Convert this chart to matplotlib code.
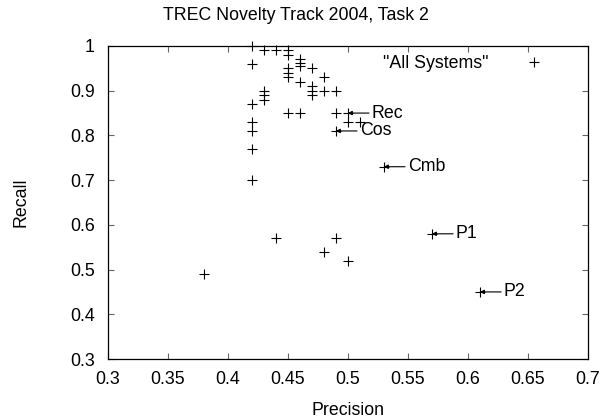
import matplotlib
matplotlib.use("Agg")
import matplotlib.pyplot as plt

# Data
precision = [0.42, 0.43, 0.44, 0.45, 0.45,
             0.42, 0.46, 0.46, 0.46,
             0.45, 0.45, 0.45, 0.47, 0.48, 0.46,
             0.47, 0.47, 0.47, 0.48, 0.49,
             0.43, 0.43, 0.43, 0.42,
             0.45, 0.46, 0.49, 0.50, 0.50, 0.51, 0.49,
             0.42, 0.42, 0.42, 0.42,
             0.53, 0.57, 0.61,
             0.44, 0.49, 0.48, 0.50, 0.38]
recall = [1.00, 0.99, 0.99, 0.99, 0.98,
          0.96, 0.97, 0.963, 0.955,
          0.95, 0.94, 0.93, 0.95, 0.93, 0.92,
          0.91, 0.90, 0.89, 0.90, 0.90,
          0.90, 0.89, 0.88, 0.87,
          0.85, 0.85, 0.85, 0.85, 0.83, 0.83, 0.81,
          0.83, 0.81, 0.77, 0.70,
          0.73, 0.58, 0.45,
          0.57, 0.57, 0.54, 0.52, 0.49]

labels = ["Rec", "Cos", "Cmb", "P1", "P2"]
label_points = [(0.50, 0.85), (0.49, 0.81), (0.53, 0.73), (0.57, 0.58), (0.61, 0.45)]
label_text_pos = [(0.52, 0.85), (0.51, 0.81), (0.55, 0.73), (0.59, 0.58), (0.63, 0.45)]

xticks = [0.3, 0.35, 0.4, 0.45, 0.5, 0.55, 0.6, 0.65, 0.7]
yticks = [0.3, 0.4, 0.5, 0.6, 0.7, 0.8, 0.9, 1.0]
xtick_labels = ["0.3", "0.35", "0.4", "0.45", "0.5", "0.55", "0.6", "0.65", "0.7"]
ytick_labels = ["0.3", "0.4", "0.5", "0.6", "0.7", "0.8", "0.9", "1"]

plt.rcParams['font.family'] = ['Liberation Sans', 'DejaVu Sans']
FS = 12.8

fig = plt.figure(figsize=(6.16, 4.2), dpi=100)
W, H = 616, 420
left, right, top, bottom = 107.5, 588, 46, 359
ax = fig.add_axes([left / W, 1 - bottom / H, (right - left) / W, (bottom - top) / H])

ax.plot(precision, recall, linestyle='none', marker='+', color='black',
        markersize=6.5, markeredgewidth=0.8, label='"All Systems"', clip_on=False)

for lab, p, t in zip(labels, label_points, label_text_pos):
    ax.annotate(lab, xy=p, xytext=t, fontsize=FS, ha='left', va='center',
                arrowprops=dict(arrowstyle='-|>', color='black', lw=0.8,
                                mutation_scale=6, shrinkA=0, shrinkB=0))

ax.set_xlim(0.3, 0.7)
ax.set_ylim(0.3, 1.0)
ax.set_xticks(xticks)
ax.set_xticklabels(xtick_labels)
ax.set_yticks(yticks)
ax.set_yticklabels(ytick_labels)
ax.tick_params(direction='in', length=4.5, width=0.8, color='#666666',
               top=True, right=True, labelsize=FS, pad=8.5)
ax.tick_params(axis='y', pad=9)
for s in ax.spines.values():
    s.set_linewidth(0.9)
    s.set_color('black')

ax.set_xlabel('Precision', fontsize=FS, labelpad=10)
ax.set_ylabel('Recall', fontsize=FS, labelpad=29)
fig.text(0.48, 1 - 15 / H, 'TREC Novelty Track 2004, Task 2', fontsize=FS,
         ha='center', va='center')

leg = ax.legend(loc='upper right', frameon=False, markerfirst=False,
                fontsize=FS, handlelength=3.5, handletextpad=0.8,
                bbox_to_anchor=(0.967, 0.993), borderaxespad=0.0)

fig.savefig('out.png', dpi=100)
